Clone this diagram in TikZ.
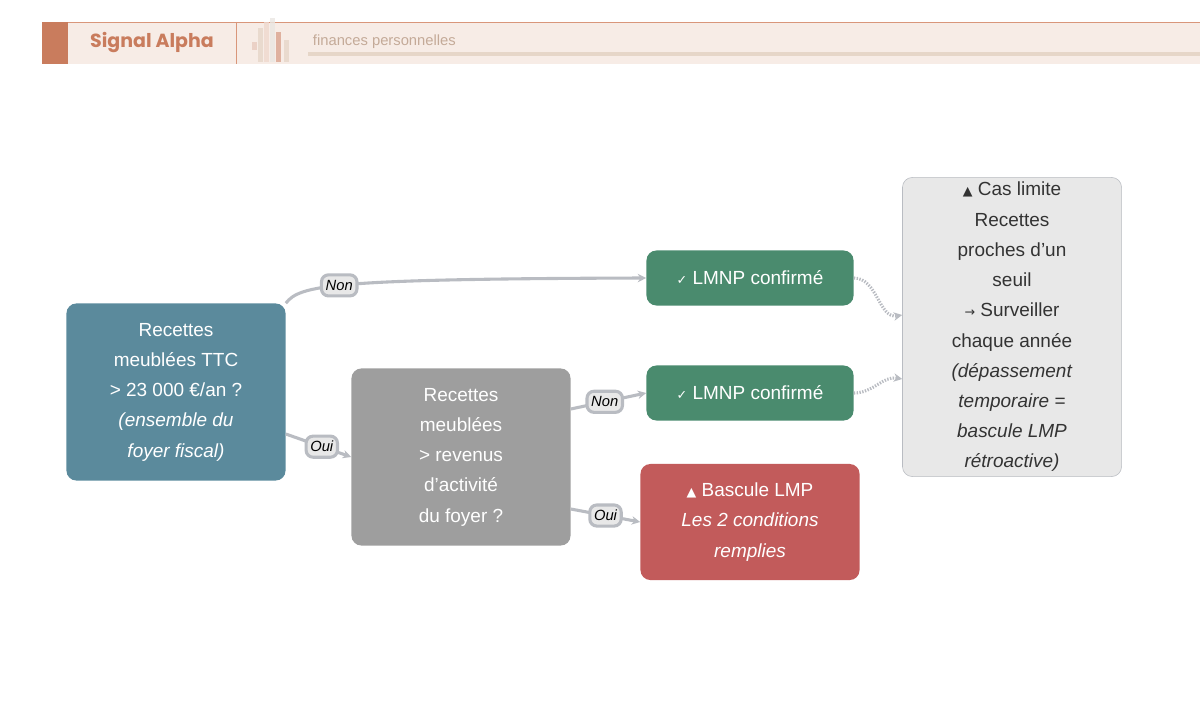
\documentclass[tikz,border=0pt]{standalone}
\usepackage{fontspec}
\setmainfont{Liberation Sans}
\newfontfamily\symfont{DejaVu Sans}
\newfontfamily\headfont{Poppins}
\usetikzlibrary{arrows.meta,positioning}
\definecolor{sahead}{RGB}{247,236,230}
\definecolor{saorange}{RGB}{201,124,93}
\definecolor{saline}{RGB}{217,150,122}
\definecolor{sasub}{RGB}{196,170,152}
\definecolor{sabar}{RGB}{230,214,200}
\definecolor{qblue}{RGB}{91,138,156}
\definecolor{qgrey}{RGB}{158,158,158}
\definecolor{okgreen}{RGB}{74,139,110}
\definecolor{badred}{RGB}{194,91,91}
\definecolor{notegrey}{RGB}{232,232,232}
\definecolor{edgegrey}{RGB}{185,188,194}
\tikzset{
  box/.style={rectangle, rounded corners=7pt, align=center, text=white,
    font=\fontsize{13.5}{21.5}\selectfont, inner sep=0pt},
  pill/.style={rectangle, rounded corners=5pt, draw=edgegrey, fill=notegrey,
    font=\fontsize{10.5}{12}\selectfont\itshape, inner sep=3pt, minimum height=15pt},
  link/.style={draw=edgegrey, line width=2.2pt, -{Stealth[length=6pt,width=6pt]}},
  hint/.style={draw=edgegrey, line width=2.2pt, dash pattern=on 1pt off 1pt, -{Stealth[length=6pt,width=6pt]}}
}
\newcommand{\warn}{{\symfont\small ▲}}
\begin{document}
\begin{tikzpicture}[x=0.025cm,y=-0.025cm]
\useasboundingbox (0,0) rectangle (1200,721);
% header band
\fill[sahead] (42,22) rectangle (1200,64);
\draw[saline] (42,22) -- (1200,22);
\fill[saorange] (42,22) rectangle (68,64);
\draw[saline] (236,22) -- (236,64);
\node[text=saorange, font=\headfont\fontsize{13.5}{15}\selectfont\bfseries] (brand) at (152,43) {Signal Alpha};
\foreach \x/\t/\b/\c in {252/28/50/saorange!40, 258/14/62/sabar, 264/8/62/saorange!30, 270/4/62/sabar!80!black!30, 276/18/62/saorange!70, 284/26/62/sabar}
  \fill[\c, opacity=0.8] (\x,\t+14) rectangle ++(5,\b-\t-14);
\node[text=sasub, font=\fontsize{10.5}{12}\selectfont, anchor=west] (sub) at (308,42) {finances personnelles};
\fill[sabar] (308,52) rectangle (1200,56);
% decision nodes
\node[box, fill=qblue, minimum width=5.475cm, minimum height=4.425cm] (recettes) at (176,392)
  {Recettes\\meublées TTC\\> 23 000 €/an ?\\\textit{(ensemble du}\\\textit{foyer fiscal)}};
\node[box, fill=qgrey, minimum width=5.475cm, minimum height=4.425cm] (revenus) at (461,457)
  {Recettes\\meublées\\> revenus\\d'activité\\du foyer ?};
\node[box, fill=okgreen, minimum width=5.175cm, minimum height=1.375cm] (lmnpA) at (750,278)
  {{\symfont\small ✓} LMNP confirmé};
\node[box, fill=okgreen, minimum width=5.175cm, minimum height=1.375cm] (lmnpB) at (750,393)
  {{\symfont\small ✓} LMNP confirmé};
\node[box, fill=badred, minimum width=5.475cm, minimum height=2.9cm] (lmp) at (750,522)
  {\warn{} Bascule LMP\\\textit{Les 2 conditions}\\\textit{remplies}};
\node[box, fill=notegrey, draw=edgegrey, text=black!80, minimum width=5.475cm, minimum height=7.475cm] (limite) at (1012,327)
  {\warn{} Cas limite\\Recettes\\proches d'un\\seuil\\{\symfont\small →} Surveiller\\chaque année\\\textit{(dépassement}\\\textit{temporaire =}\\\textit{bascule LMP}\\\textit{rétroactive)}};
% connectors
\draw[link] (recettes.north east) .. controls (300,285) and (330,279) .. node[pill, pos=0.45] {Non} (lmnpA.west);
\draw[link] ([yshift=-1.05cm]recettes.east) -- node[pill, pos=0.55] {Oui} ([yshift=0cm]revenus.west);
\draw[link] ([yshift=1.2cm]revenus.east) -- node[pill, pos=0.45] {Non} (lmnpB.west);
\draw[link] ([yshift=-1.3cm]revenus.east) -- node[pill, pos=0.5] {Oui} (lmp.west);
\draw[hint] (lmnpA.east) to[out=0,in=190] ([yshift=0.3cm]limite.west);
\draw[hint] (lmnpB.east) to[out=0,in=170] ([yshift=-1.3cm]limite.west);
\end{tikzpicture}
\end{document}
